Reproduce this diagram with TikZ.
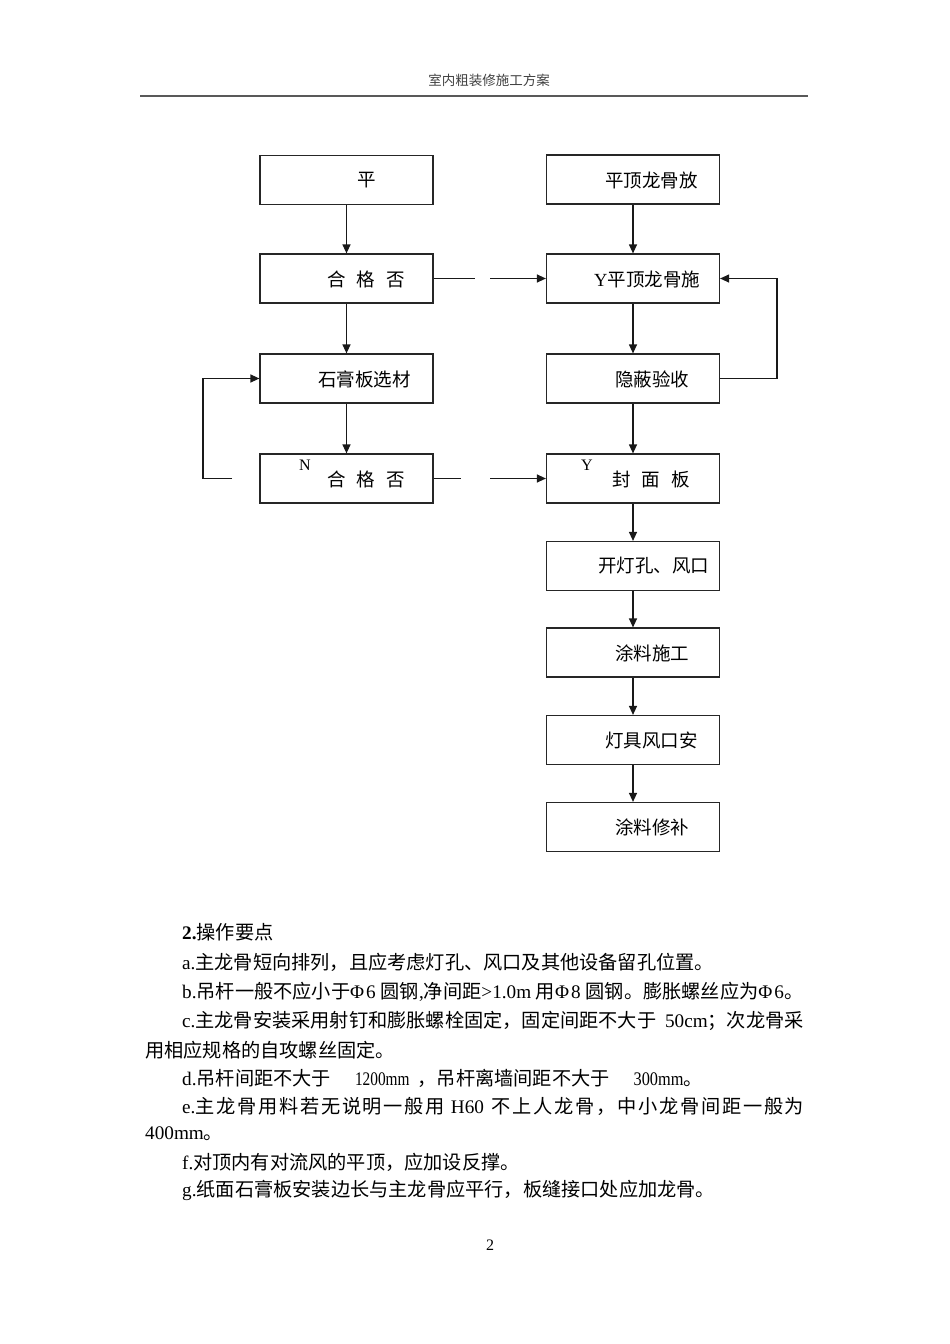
\documentclass[tikz,border=0pt]{standalone}
\usepackage{fontspec}
\usepackage{graphicx}
\setmainfont{Liberation Serif}
\newfontfamily\cjk{Noto Sans CJK SC}
\newfontfamily\cjkwide[LetterSpace=9]{Noto Sans CJK SC}
\usetikzlibrary{arrows.meta}
\newcommand\lat[1]{{\rmfamily #1}}
\newcommand\latc[2]{{\rmfamily\scalebox{#1}[1]{#2}}}
\tikzset{
  box/.style={draw=black!85, line width=1.2pt, minimum width=173pt, minimum height=49pt, inner sep=0pt},
  boxtext/.style={anchor=west, inner sep=0pt, font=\cjk\fontsize{18.5}{20}\selectfont},
  bodytext/.style={anchor=west, inner sep=0pt, font=\cjk\fontsize{19.2}{22}\selectfont},
  conn/.style={line width=1.2pt, black!90},
  arr/.style={conn, -{Triangle[length=9pt,width=8pt]}},
}
\begin{document}
\begin{tikzpicture}[x=1pt,y=-1pt]
\useasboundingbox (0,0) rectangle (950,1344);
% header
\node[anchor=center, inner sep=0pt, font=\cjk\fontsize{13.5}{15}\selectfont, text=black!75] (hdr) at (489,80) {室内粗装修施工方案};
\draw[black!65, line width=2.2pt] (140,96) coordinate (hl) -- (808,96) coordinate (hr);

% left column boxes
\node[box] (L1) at (346.5,180) {};
\node[box] (L2) at (346.5,278.5) {};
\node[box] (L3) at (346.5,378.5) {};
\node[box] (L4) at (346.5,478.5) {};
% right column boxes
\node[box] (R1) at (633,179.5) {};
\node[box] (R2) at (633,278.5) {};
\node[box] (R3) at (633,378.5) {};
\node[box] (R4) at (633,478.5) {};
\node[box] (R5) at (633,566) {};
\node[box] (R6) at (633,652.5) {};
\node[box] (R7) at (633,740) {};
\node[box] (R8) at (633,827) {};

% box texts
\node[boxtext] (L1t) at (357,180) {平};
\node[boxtext] (L2t) at (327,279) {合\hspace{11pt}格\hspace{11pt}否};
\node[boxtext] (L3t) at (318,379) {石膏板选材};
\node[boxtext] (L4t) at (327,479) {合\hspace{11pt}格\hspace{11pt}否};
\node[anchor=center, inner sep=0pt, font=\fontsize{16}{18}\selectfont] (Nl) at (305,465) {N};
\node[boxtext] (R1t) at (605,180) {平顶龙骨放};
\node[boxtext] (R2t) at (594,279) {\lat{Y}平顶龙骨施};
\node[boxtext] (R3t) at (615,379) {隐蔽验收};
\node[anchor=center, inner sep=0pt, font=\fontsize{16}{18}\selectfont] (Yl) at (587,465) {Y};
\node[boxtext] (R4t) at (612,479) {封\hspace{11pt}面\hspace{11pt}板};
\node[boxtext] (R5t) at (598,566) {开灯孔、风口};
\node[boxtext] (R6t) at (615,653) {涂料施工};
\node[boxtext] (R7t) at (605,740) {灯具风口安};
\node[boxtext] (R8t) at (615,827) {涂料修补};

% vertical arrows
\draw[arr] (L1) -- (L2);
\draw[arr] (L2) -- (L3);
\draw[arr] (L3) -- (L4);
\draw[arr] (R1) -- (R2);
\draw[arr] (R2) -- (R3);
\draw[arr] (R3) -- (R4);
\draw[arr] (R4) -- (R5);
\draw[arr] (R5) -- (R6);
\draw[arr] (R6) -- (R7);
\draw[arr] (R7) -- (R8);

% horizontal broken connectors
\coordinate (h1a) at (475,278.5);
\coordinate (h1b) at (490,278.5);
\draw[conn] (L2.east) -- (h1a);
\draw[arr] (h1b) -- (R2.west);
\coordinate (h2a) at (461,478.5);
\coordinate (h2b) at (490,478.5);
\draw[conn] (L4.east) -- (h2a);
\draw[arr] (h2b) -- (R4.west);

% left loop
\coordinate (lp0) at (232,478.5);
\draw[arr] (lp0) -- (203,478.5) -- (203,378.5) -- (L3.west);
% right loop
\draw[arr] (R3.east) -- (777,378.5) -- (777,278.5) -- (R2.east);

% body text
\node[bodytext] (t0) at (182,932) {\lat{\textbf{2.}}操作要点};
\node[bodytext] (t1) at (182,962) {\lat{a.}主龙骨短向排列，且应考虑灯孔、风口及其他设备留孔位置。};
\node[bodytext] (t2) at (182,992) {\lat{b.}吊杆一般不应小于\lat{Φ\hspace{2pt}6 }圆钢\lat{,}净间距\lat{>1.0m }用\lat{Φ\hspace{2pt}8 }圆钢。膨胀螺丝应为\lat{Φ\hspace{2pt}6}。};
\node[bodytext] (t3) at (182,1021) {\lat{c.}主龙骨安装采用射钉和膨胀螺栓固定，固定间距不大于\lat{\hspace{4pt} 50cm}；次龙骨采};
\node[bodytext] (t4) at (145,1050) {用相应规格的自攻螺丝固定。};
\node[bodytext] (t5) at (182,1078) {\lat{d.}吊杆间距不大于\hspace{24pt}\latc{0.8}{1200mm}\hspace{8pt}，吊杆离墙间距不大于\hspace{24pt}\latc{0.85}{300mm}。};
\node[bodytext, font=\cjkwide\fontsize{19.2}{22}\selectfont] (t6) at (182,1106) {\lat{e.}主龙骨用料若无说明一般用\lat{\hspace{6pt}H60\hspace{8pt}}不上人龙骨，中小龙骨间距一般为};
\node[bodytext] (t7) at (145,1134) {\lat{400mm}。};
\node[bodytext] (t8) at (182,1162) {\lat{f.}对顶内有对流风的平顶，应加设反撑。};
\node[bodytext] (t9) at (182,1190) {\lat{g.}纸面石膏板安装边长与主龙骨应平行，板缝接口处应加龙骨。};
\node[anchor=center, inner sep=0pt, font=\fontsize{16}{18}\selectfont] (pg) at (490,1245) {2};
\end{tikzpicture}
\end{document}
